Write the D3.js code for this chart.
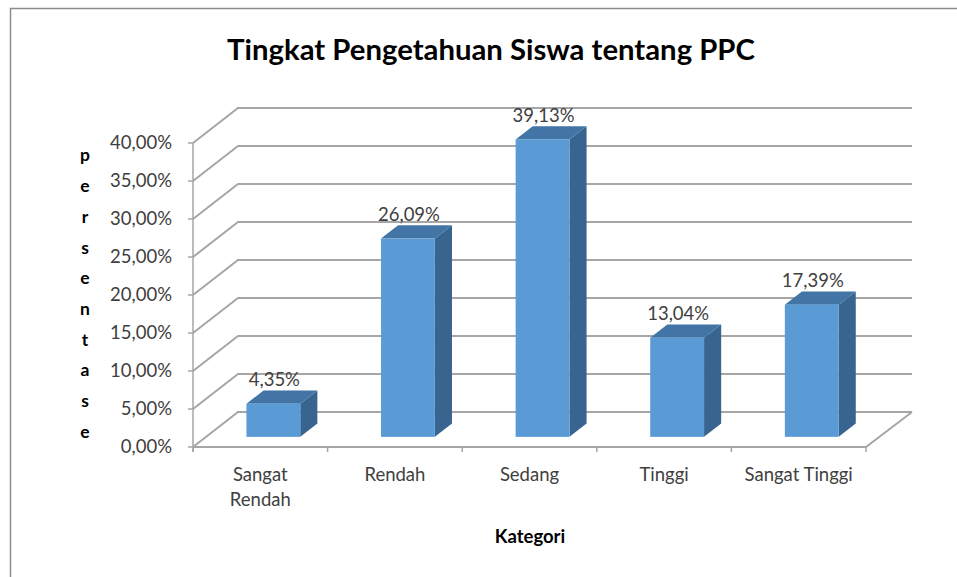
<!DOCTYPE html>
<html>
<head>
<meta charset="utf-8">
<script src="https://cdn.jsdelivr.net/npm/d3@7"></script>
<style>
  body { margin: 0; background: #fff; }
  svg { display: block; font-family: Lato, "Open Sans", sans-serif; }
</style>
</head>
<body>
<div id="chart"></div>
<script>
// Data
const categories = ["Sangat Rendah", "Rendah", "Sedang", "Tinggi", "Sangat Tinggi"];
const categoryLines = [["Sangat", "Rendah"], ["Rendah"], ["Sedang"], ["Tinggi"], ["Sangat Tinggi"]];
const values = [0.0435, 0.2609, 0.3913, 0.1304, 0.1739];
const tickValues = [0, 0.05, 0.10, 0.15, 0.20, 0.25, 0.30, 0.35, 0.40];
const titleText = "Tingkat Pengetahuan Siswa tentang PPC";
const yTitle = "persentase";
const xTitle = "Kategori";

const width = 957, height = 577;

// 3D frame parameters
const frontLeft = 193, frontRight = 866, frontBase = 447;
const depthX = 45, depthY = 35;
const barFront = 0.29, barBack = 0.67;   // bar position along the depth
const barFrac = 0.4;                     // bar width as share of band

const gridColor = "#a6a6a6";
const frontColor = "#5b9bd5", topColor = "#4274a6", sideColor = "#386490";
const labelSize = "18.5px";

const fmt = v => d3.format(".2%")(v).replace(".", ",");

const svg = d3.select("#chart").append("svg")
  .attr("width", width)
  .attr("height", height);

// Chart border
svg.append("rect")
  .attr("x", 10.5).attr("y", 8.5)
  .attr("width", width + 20).attr("height", height + 20)
  .attr("fill", "none")
  .attr("stroke", "#8c8c8c")
  .attr("stroke-width", 1.5);

// Scales
const y = d3.scaleLinear().domain([0, 0.40]).range([0, 304]);
const x = d3.scaleBand().domain(categories).range([frontLeft, frontRight]);

// Walls: side diagonals + back horizontal gridlines
const grid = svg.append("g")
  .attr("fill", "none")
  .attr("stroke", gridColor)
  .attr("stroke-width", 2);

grid.selectAll(".grid")
  .data(tickValues)
  .enter()
  .append("path")
  .attr("class", "grid")
  .attr("d", d => {
    const yf = frontBase - y(d);
    return `M${frontLeft},${yf}L${frontLeft + depthX},${yf - depthY}L${frontRight + depthX + 1},${yf - depthY}`;
  });

// Floor front edge and right edge
grid.append("path")
  .attr("d", `M${frontLeft},${frontBase}L${frontRight},${frontBase}L${frontRight + depthX + 1},${frontBase - depthY}`);

// Vertical axis line and ticks
const axis = svg.append("g").attr("stroke", gridColor).attr("stroke-width", 1.5);
axis.append("line")
  .attr("x1", frontLeft).attr("x2", frontLeft)
  .attr("y1", frontBase - y(0.40)).attr("y2", frontBase + 5);

axis.selectAll(".ytick")
  .data(tickValues)
  .enter()
  .append("line")
  .attr("x1", frontLeft - 5).attr("x2", frontLeft)
  .attr("y1", d => frontBase - y(d))
  .attr("y2", d => frontBase - y(d));

axis.selectAll(".xtick")
  .data(d3.range(categories.length + 1))
  .enter()
  .append("line")
  .attr("x1", i => frontLeft + i * x.bandwidth())
  .attr("x2", i => frontLeft + i * x.bandwidth())
  .attr("y1", frontBase)
  .attr("y2", frontBase + 5);

// Y tick labels
svg.selectAll(".ylabel")
  .data(tickValues)
  .enter()
  .append("text")
  .attr("x", 172)
  .attr("y", d => frontBase - y(d) + 1)
  .attr("text-anchor", "end")
  .attr("dominant-baseline", "middle")
  .attr("fill", "#404040")
  .style("font-size", labelSize)
  .text(d => fmt(d));

// Bars
const bw = x.bandwidth() * barFrac;
const bd = barBack - barFront;
const bars = svg.selectAll(".bar")
  .data(values.map((v, i) => ({ v, c: categories[i] })))
  .enter()
  .append("g")
  .attr("class", "bar");

const geom = d => {
  const x0 = x(d.c) + (x.bandwidth() - bw) / 2 + depthX * barFront;
  const yb = frontBase - depthY * barFront;
  const yt = yb - y(d.v);
  return { x0, x1: x0 + bw, yb, yt, ox: depthX * bd, oy: depthY * bd };
};

bars.append("path")
  .attr("fill", sideColor)
  .attr("d", d => {
    const g = geom(d);
    return `M${g.x1},${g.yb}L${g.x1 + g.ox},${g.yb - g.oy}L${g.x1 + g.ox},${g.yt - g.oy}L${g.x1},${g.yt}Z`;
  });

bars.append("path")
  .attr("fill", topColor)
  .attr("d", d => {
    const g = geom(d);
    return `M${g.x0},${g.yt}L${g.x1},${g.yt}L${g.x1 + g.ox},${g.yt - g.oy}L${g.x0 + g.ox},${g.yt - g.oy}Z`;
  });

bars.append("rect")
  .attr("fill", frontColor)
  .attr("x", d => geom(d).x0)
  .attr("y", d => geom(d).yt)
  .attr("width", bw)
  .attr("height", d => y(d.v));

// Data labels
bars.append("text")
  .attr("x", d => geom(d).x0 + bw / 2 + 1)
  .attr("y", d => geom(d).yt - geom(d).oy - 4)
  .attr("text-anchor", "middle")
  .attr("fill", "#404040")
  .style("font-size", labelSize)
  .text(d => fmt(d.v));

// Category labels
svg.selectAll(".xlabel")
  .data(categoryLines)
  .enter()
  .append("text")
  .attr("x", (d, i) => x(categories[i]) + x.bandwidth() / 2)
  .attr("y", 481)
  .attr("text-anchor", "middle")
  .attr("fill", "#404040")
  .style("font-size", labelSize)
  .selectAll("tspan")
  .data(d => d)
  .enter()
  .append("tspan")
  .attr("x", function() { return d3.select(this.parentNode).attr("x"); })
  .attr("dy", (d, i) => i === 0 ? 0 : 25)
  .text(d => d);

// Y axis title, stacked letters
svg.selectAll(".ytitle")
  .data(yTitle.split(""))
  .enter()
  .append("text")
  .attr("x", 85)
  .attr("y", (d, i) => 157 + i * 30.7)
  .attr("text-anchor", "middle")
  .attr("dominant-baseline", "middle")
  .attr("fill", "#000")
  .style("font-size", "17.5px")
  .style("font-weight", "bold")
  .text(d => d);

// X axis title
svg.append("text")
  .attr("x", 530)
  .attr("y", 543)
  .attr("text-anchor", "middle")
  .attr("fill", "#000")
  .style("font-size", "18.5px")
  .style("font-weight", "bold")
  .text(xTitle);

// Chart title, sized to match the reference width
const title = svg.append("text")
  .attr("x", 491)
  .attr("y", 60)
  .attr("text-anchor", "middle")
  .attr("fill", "#000")
  .style("font-size", "26px")
  .style("font-weight", "bold")
  .text(titleText);
const tw = title.node().getComputedTextLength();
title.style("font-size", (26 * 527 / tw).toFixed(1) + "px");
</script>
</body>
</html>
